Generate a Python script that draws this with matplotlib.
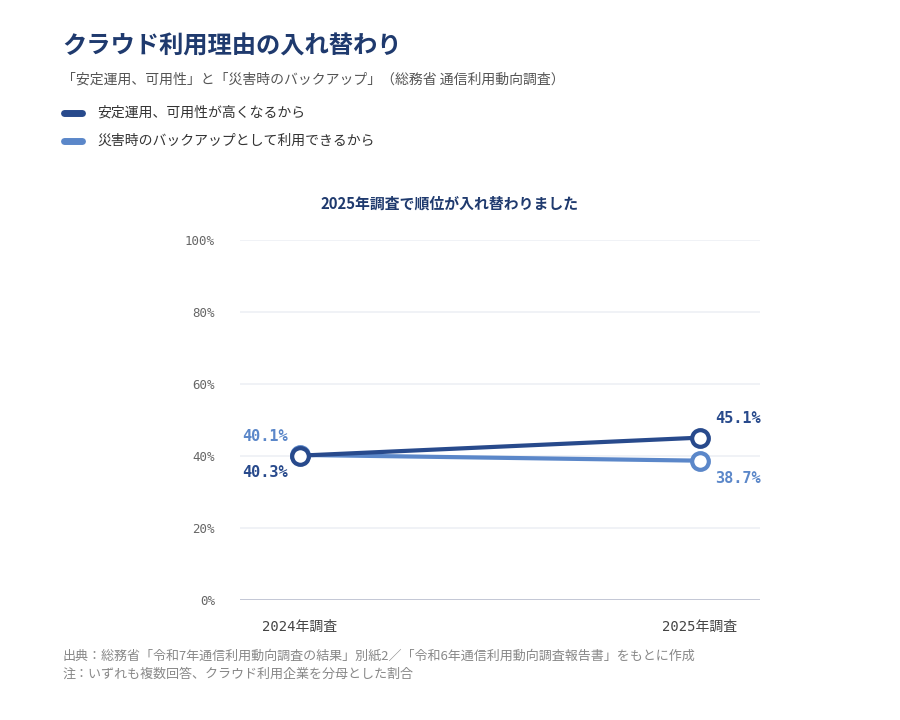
import matplotlib.pyplot as plt
from matplotlib.lines import Line2D

plt.rcParams['font.family'] = ['Noto Sans CJK JP', 'DejaVu Sans']

years = ['2024年調査', '2025年調査']
series_names = ['安定運用、可用性が高くなるから', '災害時のバックアップとして利用できるから']
stable = [40.1, 45.1]
backup = [40.3, 38.7]
# labels as printed on the chart
stable_labels = ['40.3%', '45.1%']
backup_labels = ['40.1%', '38.7%']
yticks = [0, 20, 40, 60, 80, 100]

dark = '#284a8c'
light = '#5b87c9'
navy = '#1f3a6e'
mono = ['DejaVu Sans Mono', 'Noto Sans CJK JP']

fig = plt.figure(figsize=(9, 7.2), dpi=100)
fig.patch.set_facecolor('white')

fig.text(62/900, 1 - 47/720, 'クラウド利用理由の入れ替わり', fontsize=17.5, fontweight='bold',
         color=navy, va='center', ha='left')
fig.text(62/900, 1 - 80/720, '「安定運用、可用性」と「災害時のバックアップ」（総務省 通信利用動向調査）',
         fontsize=10, color='#555555', va='center', ha='left')

# legend drawn by hand
for i, (name, col) in enumerate(zip(series_names, [dark, light])):
    yy = 1 - (113 + 28*i)/720
    fig.add_artist(Line2D([64/900, 82/900], [yy, yy], color=col, lw=5,
                          solid_capstyle='round', transform=fig.transFigure))
    fig.text(97/900, yy, name, fontsize=10, color='#333333', va='center', ha='left')

fig.text(450/900, 1 - 204/720, '2025年調査で順位が入れ替わりました', fontsize=10.7,
         fontweight='bold', color=navy, va='center', ha='center')

ax = fig.add_axes([240/900, 120/720, 520/900, 360/720])
x = range(len(years))
ax.plot(x, backup, color=light, lw=3, marker='o', ms=12, mfc='white', mec=light, mew=3, zorder=3)
ax.plot(x, stable, color=dark, lw=3, marker='o', ms=12, mfc='white', mec=dark, mew=3, zorder=4)

ax.set_xlim(-0.15, 1.15)
ax.set_ylim(0, 100)
ax.set_yticks(yticks)
ax.set_yticklabels([f'{v}%' for v in yticks], family=mono, fontsize=9, color='#666666')
ax.set_xticks(list(x))
ax.set_xticklabels(years, family=mono, fontsize=10, color='#444444')
ax.tick_params(length=0, axis='y', pad=18)
ax.tick_params(length=0, axis='x', pad=14)
for s in ax.spines.values():
    s.set_visible(False)
ax.grid(axis='y', color='#eef0f5', lw=1.2)
ax.axhline(0, color='#bfc3d3', lw=2, zorder=2)

lab = dict(textcoords='offset points', ha='center', va='center', family=mono,
           fontsize=11, fontweight='bold')
ax.annotate(backup_labels[0], (0, backup[0]), xytext=(-25, 13), color=light, **lab)
ax.annotate(stable_labels[0], (0, stable[0]), xytext=(-25, -12), color=dark, **lab)
ax.annotate(stable_labels[1], (1, stable[1]), xytext=(27, 14), color=dark, **lab)
ax.annotate(backup_labels[1], (1, backup[1]), xytext=(27, -13), color=light, **lab)

fig.text(62/900, 1 - 656/720, '出典：総務省「令和7年通信利用動向調査の結果」別紙2／「令和6年通信利用動向調査報告書」をもとに作成',
         fontsize=9.4, color='#888888', va='center', ha='left')
fig.text(62/900, 1 - 674/720, '注：いずれも複数回答、クラウド利用企業を分母とした割合',
         fontsize=9.4, color='#888888', va='center', ha='left')

fig.savefig('out.png', dpi=100, facecolor='white')
